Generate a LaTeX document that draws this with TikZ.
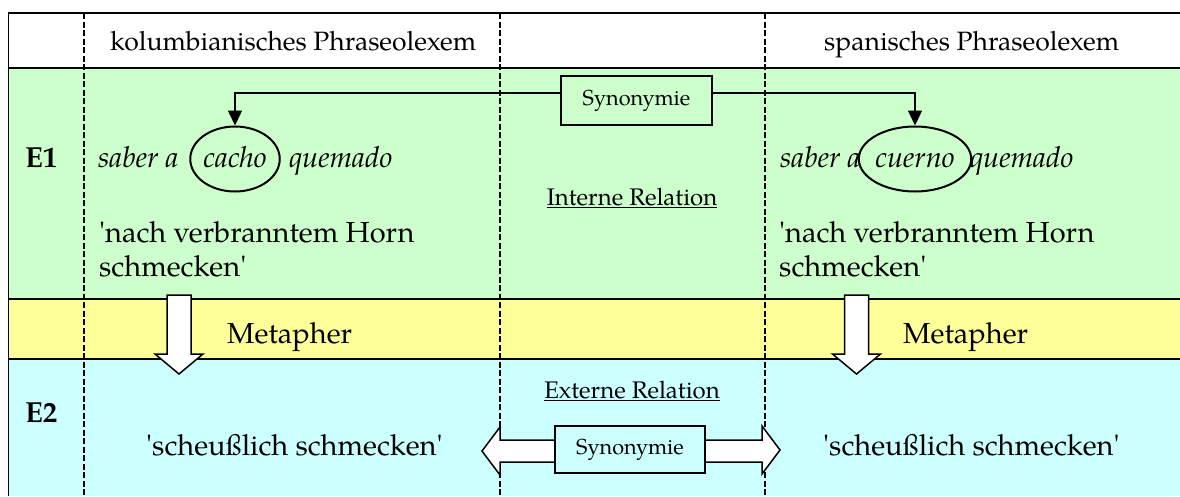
\documentclass[tikz,border=0pt]{standalone}
\usepackage{fontspec}
\setmainfont{TeX Gyre Pagella}[Ligatures=TeXOff]
\usetikzlibrary{arrows.meta,shapes.geometric}
\definecolor{rowgreen}{HTML}{CCFFCC}
\definecolor{rowyellow}{HTML}{FFFF99}
\definecolor{rowcyan}{HTML}{CCFFFF}

\begin{document}
\begin{tikzpicture}[x=1pt,y=-1pt,
  rule/.style={line width=1.5pt},
  colsep/.style={line width=1.5pt, dash pattern=on 6pt off 2.5pt},
  headtxt/.style={font=\fontsize{26.5}{31}\selectfont, anchor=base west, inner sep=0pt},
  bodytxt/.style={font=\fontsize{29}{34}\selectfont, anchor=base west, inner sep=0pt, align=left},
  itxt/.style={bodytxt, font=\fontsize{29}{34}\selectfont\itshape},
  labeltxt/.style={font=\fontsize{29}{34}\selectfont\bfseries, anchor=base west, inner sep=0pt},
  reltxt/.style={font=\fontsize{24}{28}\selectfont, anchor=base, inner sep=0pt},
  relbox/.style={draw, line width=2pt, font=\fontsize{21.7}{26}\selectfont, inner sep=0pt},
  wordring/.style={ellipse, draw, line width=2pt, inner sep=0pt, text height=20pt,
    text depth=4pt, font=\fontsize{29}{34}\selectfont\itshape},
  synlink/.style={line width=1.5pt, -{Triangle[length=15pt,width=14pt]}},
  blockarrow/.style={draw, fill=white, line width=1.5pt, line join=miter},
  downarrow/.pic={
    \path[blockarrow] (-12,0) -- (12,0) -- (12,59) -- (24,59) -- (0,79)
      -- (-24,59) -- (-12,59) -- cycle;
  }
]
\useasboundingbox (0,0) rectangle (1180,496);

% row backgrounds
\fill[white]     (8.5,13)  rectangle (1180,68);
\fill[rowgreen]  (8.5,68)  rectangle (1180,299);
\fill[rowyellow] (8.5,299) rectangle (1180,359);
\fill[rowcyan]   (8.5,359) rectangle (1180,496);

% table rules
\draw[rule] (1180,13) -- (8.5,13) -- (8.5,496);
\draw[rule] (8.5,68)  -- (1180,68);
\draw[rule] (8.5,299) -- (1180,299);
\draw[rule] (8.5,359) -- (1180,359);

% column separators
\draw[colsep] (84,13)  -- (84,496);
\draw[colsep] (500,13) -- (500,496);
\draw[colsep] (765,13) -- (765,496);

% header row
\node[headtxt] (hcol) at (110,50) {kolumbianisches Phraseolexem};
\node[headtxt] (hspa) at (824,50) {spanisches Phraseolexem};

% E1 row
\node[labeltxt] (e1) at (25,167) {E1};
\node[itxt] (sab1) at (98,167) {saber a};
\node[wordring, minimum width=86pt, minimum height=65pt] (ell1) at (235,159) {cacho};
\node[itxt] (que1) at (289,167) {quemado};
\node[itxt] (sab2) at (780,167) {saber a};
\node[wordring, minimum width=95pt, minimum height=65pt] (ell2) at (915,159) {cuerno};
\node[itxt] (que2) at (970,167) {quemado};
\node[bodytxt] (gl1) at (99,276) {'nach verbranntem Horn\\schmecken'};
\node[bodytxt] (gl2) at (779,276) {'nach verbranntem Horn\\schmecken'};

\node[relbox, fill=rowgreen, minimum width=151pt, minimum height=49pt] (syn1) at (636.5,100.5) {Synonymie};
\node[reltxt] (intrel) at (632,205) {\underline{Interne Relation}};
\draw[synlink] ([yshift=7.5pt]syn1.west) -| (ell1.north);
\draw[synlink] ([yshift=7.5pt]syn1.east) -| (ell2.north);

% metaphor row
\node[bodytxt] (met1) at (227,343) {Metapher};
\node[bodytxt] (met2) at (903,343) {Metapher};
\pic at (179,295) {downarrow};
\pic at (856.5,295) {downarrow};

% E2 row
\node[labeltxt] (e2) at (25,422) {E2};
\node[bodytxt] (sch1) at (146,455) {'scheußlich schmecken'};
\node[bodytxt] (sch2) at (823,455) {'scheußlich schmecken'};
\node[reltxt] (extrel) at (632,398) {\underline{Externe Relation}};
\path[blockarrow] (482,451) -- (500,427) -- (500,440) -- (762,440) -- (762,426)
  -- (780,450) -- (762,474) -- (762,462) -- (500,462) -- (500,475) -- cycle;
\node[relbox, fill=rowcyan, minimum width=150pt, minimum height=47pt] (syn2) at (630,449.5) {Synonymie};
\end{tikzpicture}
\end{document}
